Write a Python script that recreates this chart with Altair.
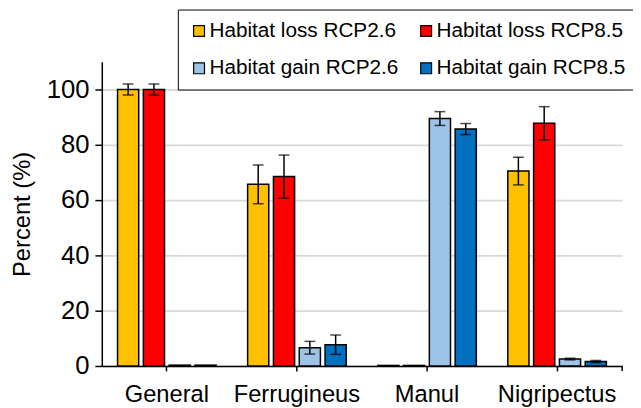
import altair as alt
import pandas as pd

categories = ["General", "Ferrugineus", "Manul", "Nigripectus"]
series = ["Habitat loss RCP2.6", "Habitat loss RCP8.5", "Habitat gain RCP2.6", "Habitat gain RCP8.5"]
colors = ["#FFC000", "#FF0000", "#9DC3E6", "#0070C0"]

loss_26 = [100.0, 65.7, 0.2, 70.5]
loss_85 = [100.0, 68.5, 0.2, 87.8]
gain_26 = [0.3, 6.6, 89.5, 2.5]
gain_85 = [0.3, 7.7, 85.7, 1.6]

err_loss_26 = [2.0, 7.0, 0.0, 5.0]
err_loss_85 = [2.0, 7.8, 0.0, 6.0]
err_gain_26 = [0.0, 2.3, 2.5, 0.3]
err_gain_85 = [0.0, 3.5, 2.0, 0.4]

y_ticks = [0, 20, 40, 60, 80, 100]

rows = []
for s, vals, errs in zip(series, [loss_26, loss_85, gain_26, gain_85],
                         [err_loss_26, err_loss_85, err_gain_26, err_gain_85]):
    for c, v, e in zip(categories, vals, errs):
        rows.append({"category": c, "series": s, "value": v,
                     "lo": v - e, "hi": v + e, "has_err": e > 0})
df = pd.DataFrame(rows)

W, H = 527, 308
FONT = "Liberation Sans"

x = alt.X("category:N", sort=categories, title=None,
          scale=alt.Scale(paddingInner=0.242, paddingOuter=0.121),
          axis=alt.Axis(labelAngle=0, labelFontSize=24, labelColor="black",
                        labelFont=FONT, labelPadding=12, domainColor="black",
                        domainWidth=1.5, tickColor="black", tickWidth=1.5,
                        tickSize=5, grid=False))
xo = alt.XOffset("series:N", sort=series, scale=alt.Scale(paddingInner=0.18))

base = alt.Chart(df)

bars = base.mark_bar(stroke="black", strokeWidth=1.5).encode(
    x=x,
    xOffset=xo,
    y=alt.Y("value:Q", title="Percent (%)",
            scale=alt.Scale(domain=[0, 110], nice=False),
            axis=alt.Axis(values=y_ticks, labelFontSize=26, labelColor="black",
                          labelFont=FONT, labelPadding=6, titleFont=FONT,
                          titleFontSize=24, titleFontWeight="normal",
                          titleColor="black", titlePadding=12,
                          domainColor="black", domainWidth=1.5,
                          tickColor="black", tickWidth=1.5, tickSize=7,
                          gridColor="#D9D9D9", gridWidth=1.8)),
    color=alt.Color("series:N", sort=series,
                    scale=alt.Scale(domain=series, range=colors),
                    legend=alt.Legend(title=None, orient="none", legendX=77,
                                      legendY=-53, columns=2, direction="horizontal",
                                      symbolType="square", symbolSize=121,
                                      symbolStrokeColor="black", symbolStrokeWidth=1.2,
                                      labelFontSize=21, labelFont=FONT,
                                      labelColor="black", labelLimit=400,
                                      labelOffset=0, rowPadding=16,
                                      columnPadding=17, padding=11,
                                      strokeColor="black", fillColor="white")),
)

errdf = base.transform_filter("datum.has_err")

rules = errdf.mark_rule(color="black", strokeWidth=1.5).encode(
    x=alt.X("category:N", sort=categories), xOffset=xo,
    y="lo:Q", y2="hi:Q")
cap_lo = errdf.mark_tick(color="black", thickness=1.5, size=11, orient="horizontal").encode(
    x=alt.X("category:N", sort=categories), xOffset=xo, y="lo:Q")
cap_hi = errdf.mark_tick(color="black", thickness=1.5, size=11, orient="horizontal").encode(
    x=alt.X("category:N", sort=categories), xOffset=xo, y="hi:Q")

end_tick = alt.Chart(pd.DataFrame({"a": [0]})).mark_rule(color="black", strokeWidth=1.5).encode(
    x=alt.value(W), y=alt.value(H), y2=alt.value(H + 5))

chart = alt.layer(bars, rules, cap_lo, cap_hi, end_tick).properties(
    width=W, height=H,
    autosize=alt.AutoSizeParams(type="none"),
    padding={"left": 95, "top": 52, "right": 11, "bottom": 40},
).configure_view(stroke=None)

chart.save("out.html", embed_options={"renderer": "svg", "actions": False})
